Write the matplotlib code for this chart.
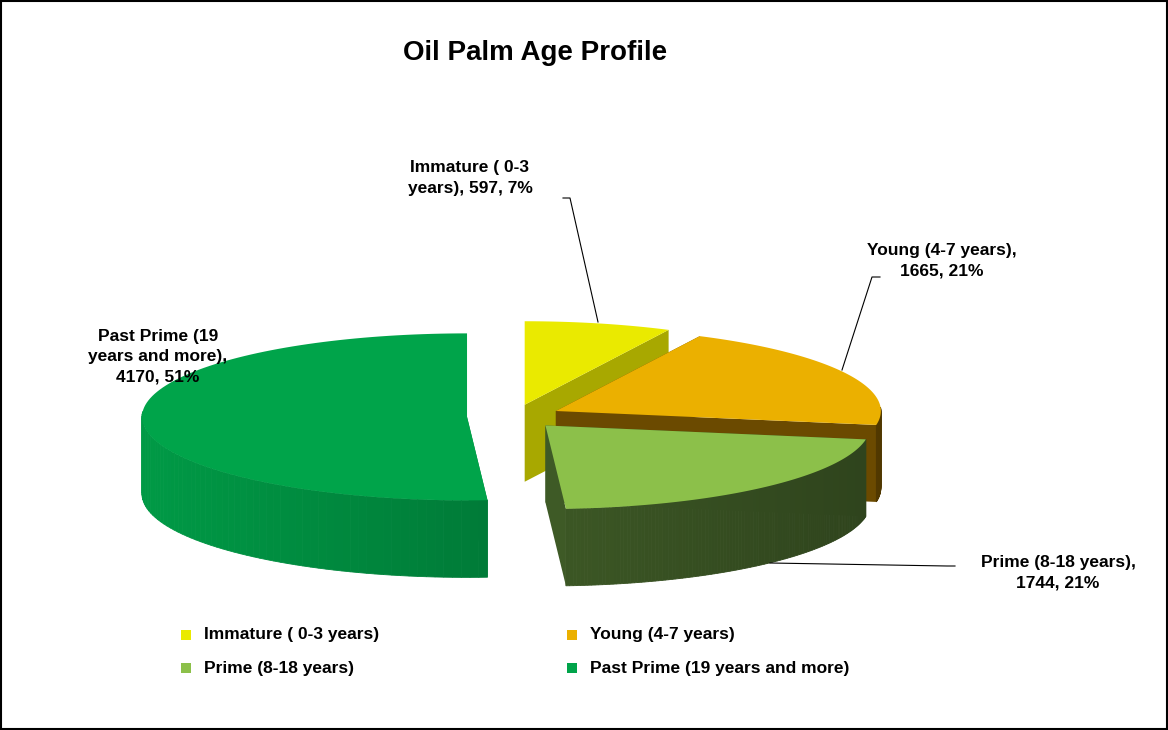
import numpy as np
import matplotlib.pyplot as plt
from matplotlib.patches import Polygon, Rectangle
import matplotlib.colors as mcolors

plt.rcParams['font.family'] = ['Liberation Sans', 'DejaVu Sans']

categories = ['Immature ( 0-3 years)', 'Young (4-7 years)', 'Prime (8-18 years)',
              'Past Prime (19 years and more)']
values = [597, 1665, 1744, 4170]
pcts = ['7%', '21%', '21%', '51%']
top_colors = ['#EAEA00', '#EBB000', '#8CC04A', '#00A44A']
side_colors = ['#A8A800', '#6B4A00', '#3E5A26', '#00803A']

# geometry in pixel space
cx, cy, rx, ry, depth, explode = 514, 416.5, 325, 83.5, 77, 47

fig = plt.figure(figsize=(11.68, 7.3), dpi=100)
ax = fig.add_axes([0, 0, 1, 1])
ax.set_xlim(0, 1168)
ax.set_ylim(730, 0)
ax.axis('off')
ax.add_patch(Rectangle((1, 1), 1166, 728, fill=False, edgecolor='black', lw=1.5))


def pt(ox, oy, th, dz=0):
    return (ox + rx * np.sin(th), oy - ry * np.cos(th) + dz)


def shade(c, f):
    r, g, b = mcolors.to_rgb(c)
    return (r * f, g * f, b * f)


total = sum(values)
bounds = np.concatenate([[0], np.cumsum(values)]) / total * 2 * np.pi

for i in range(len(values)):
    a0, a1 = bounds[i], bounds[i + 1]
    am = (a0 + a1) / 2
    ox = cx + explode * np.sin(am)
    oy = cy - explode * np.cos(am) * ry / rx
    # radial walls
    for a in (a0, a1):
        p = pt(ox, oy, a)
        ax.add_patch(Polygon([(ox, oy), p, (p[0], p[1] + depth), (ox, oy + depth)],
                             closed=True, facecolor=side_colors[i], edgecolor='none'))
    # curved outer wall with shading
    th = np.linspace(a0, a1, 120)
    for t0, t1 in zip(th[:-1], th[1:]):
        if np.cos((t0 + t1) / 2) > 0.05:
            continue
        f = 0.75 + 0.45 * (-np.sin((t0 + t1) / 2) + 1) / 2
        p0, p1 = pt(ox, oy, t0), pt(ox, oy, t1)
        ax.add_patch(Polygon([p0, p1, (p1[0], p1[1] + depth), (p0[0], p0[1] + depth)],
                             closed=True, facecolor=shade(side_colors[i], min(f, 1.25)),
                             edgecolor=shade(side_colors[i], min(f, 1.25)), lw=0.6))
    # top
    top = [(ox, oy)] + [pt(ox, oy, t) for t in th]
    ax.add_patch(Polygon(top, closed=True, facecolor=top_colors[i], edgecolor='none'))

# title
ax.text(535, 53, 'Oil Palm Age Profile', fontsize=20, fontweight='bold', ha='center', va='center')

# data labels with leaders
lab_kw = dict(fontsize=12.5, fontweight='bold', va='center', linespacing=1.45)
ax.text(470, 178, f'Immature ( 0-3\nyears), {values[0]}, {pcts[0]}', ha='center', **lab_kw)
ax.plot([563, 570, 598], [198, 198, 322], color='black', lw=0.8)
ax.text(942, 261, f'Young (4-7 years),\n{values[1]}, {pcts[1]}', ha='center', **lab_kw)
ax.plot([880, 872, 842], [277, 277, 370], color='black', lw=0.8)
ax.text(1058, 573, f'Prime (8-18 years),\n{values[2]}, {pcts[2]}', ha='center', **lab_kw)
ax.plot([955, 947, 770], [566, 566, 563], color='black', lw=0.8)
ax.text(158, 357, f'Past Prime (19\nyears and more),\n{values[3]}, {pcts[3]}', ha='center', **lab_kw)

# legend
leg_pos = [(186, 635), (572, 635), (186, 668), (572, 668)]
for (lx, ly), cat, col in zip(leg_pos, categories, top_colors):
    ax.add_patch(Rectangle((lx - 5, ly - 5), 10, 10, facecolor=col, edgecolor='none'))
    ax.text(lx + 18, ly, cat, fontsize=12.5, fontweight='bold', va='center')

fig.savefig('out.png', dpi=100)
